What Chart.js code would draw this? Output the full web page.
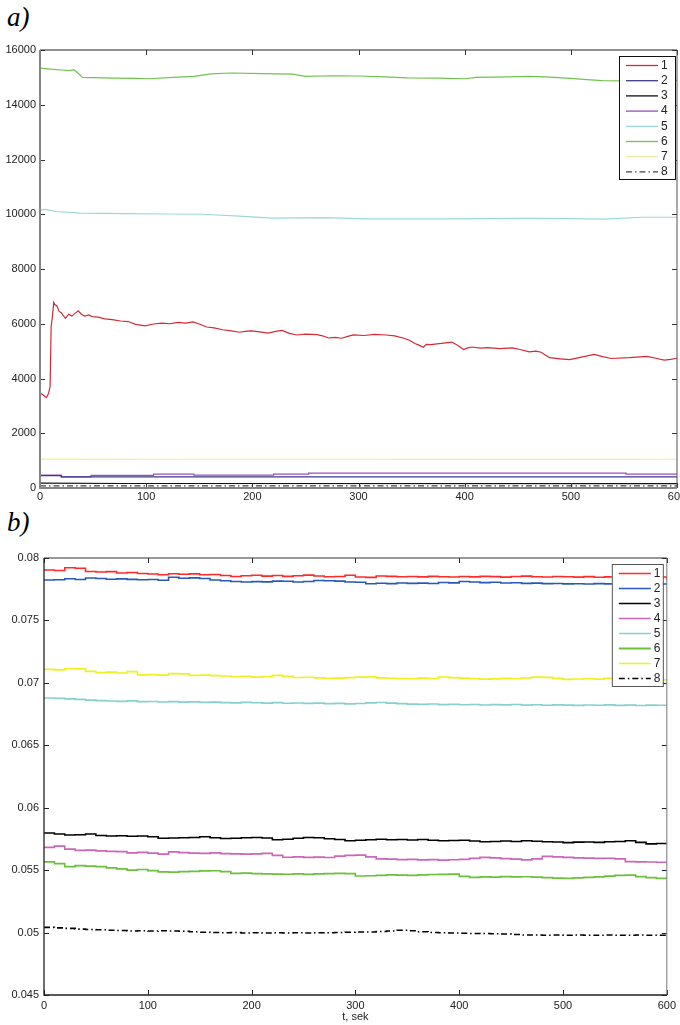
<!DOCTYPE html>
<html>
<head>
<meta charset="utf-8">
<script src="https://cdn.jsdelivr.net/npm/chart.js@4.4.0/dist/chart.umd.min.js"></script>
<style>
html, body { margin: 0; padding: 0; background: #fff; overflow: hidden; width: 680px; height: 1025px; }
.lbl { position: absolute; font-family: "Liberation Serif", "DejaVu Serif", serif; font-style: italic; font-size: 27px; color: #000; line-height: 30px; }
#wa { position: absolute; left: 0; top: 0; width: 700px; height: 510px; }
#wb { position: absolute; left: 0; top: 540px; width: 680px; height: 485px; }
</style>
</head>
<body>
<div class="lbl" style="left:7px;top:2px">a)</div>
<div class="lbl" style="left:7px;top:507px">b)</div>
<div id="wa"><canvas id="ca"></canvas></div>
<div id="wb"><canvas id="cb"></canvas></div>
<script>
// ---- chart a) ----
var xTicksA = [0, 100, 200, 300, 400, 500, 600];
var yTicksA = [0, 2000, 4000, 6000, 8000, 10000, 12000, 14000, 16000];

var a1T = [0,3,6,8,9.5,10.5,11.5,13,14,16,
  18,20,22,24,27,30,33,36,39,42,
  46,49,55,61,68,76,83,90,99,107,
  115,122,130,137,144,150,157,164,172,180,
  188,193,199,207,215,222,228,235,242,250,
  261,266,272,278,284,290,295,305,315,326,
  334,342,348,353,357,361,364,368,378,388,
  394,399,403,407,415,422,433,445,452,461,
  467,472,476,480,490,499,510,522,530,538,
  555,572,580,588,594,600];
var a1V = [3480,3400,3300,3450,3700,5900,6200,6780,6700,6650,
  6450,6400,6300,6200,6350,6280,6380,6470,6350,6280,
  6320,6260,6240,6180,6150,6100,6080,5980,5920,5990,
  6020,6000,6050,6020,6070,5990,5880,5850,5780,5740,
  5690,5720,5740,5700,5660,5720,5760,5650,5590,5620,
  5600,5560,5480,5500,5470,5540,5590,5570,5610,5590,
  5560,5480,5400,5280,5220,5140,5250,5240,5280,5330,
  5200,5060,5120,5150,5110,5130,5090,5120,5060,4970,
  5000,4960,4860,4760,4720,4690,4780,4880,4800,4730,
  4760,4810,4740,4670,4700,4740];
var a2T = [0, 20, 600];
var a2V = [450, 410, 410];
var a3T = [0, 80, 600];
var a3V = [180, 165, 160];
var a4T = [0, 20, 48, 107, 145, 220, 253, 552, 600];
var a4V = [470, 410, 460, 510, 470, 510, 545, 510, 510];
var a5T = [0,5,15,38,80,120,153,192,218,240,268,307,350,384,420,461,500,530,568,600];
var a5V = [10150,10180,10100,10040,10020,10010,10000,9920,9860,9870,9880,9830,9830,9830,9840,9850,9840,9820,9890,9890];
var a6T = [0,10,20,28,32,36,40,50,70,90,
  103,125,145,161,180,210,238,250,275,300,
  325,346,375,400,411,440,461,476,500,515,
  530,560,600];
var a6V = [15340,15300,15270,15250,15280,15150,15000,14990,14970,14960,
  14950,15000,15040,15130,15160,15140,15120,15040,15060,15050,
  15020,14980,14970,14950,15000,15020,15040,15020,14960,14920,
  14880,14870,14890];
var a7T = [0, 150, 300, 450, 600];
var a7V = [1055, 1050, 1050, 1048, 1050];
var a8T = [0, 600];
var a8V = [75, 75];

// ---- chart b) ----
var xTicksB = [0, 100, 200, 300, 400, 500, 600];
var yTicksB = [0.045, 0.05, 0.055, 0.06, 0.065, 0.07, 0.075, 0.08];
var tB = [0,10,20,30,40,50,60,70,80,90,
  100,110,120,130,140,150,160,170,180,190,
  200,210,220,230,240,250,260,270,280,290,
  300,310,320,330,340,350,360,370,380,390,
  400,410,420,430,440,450,460,470,480,490,
  500,510,520,530,540,550,560,570,580,590,600];
var b1 = [0.07904,0.07900,0.07922,0.07918,0.07892,0.07888,0.07891,0.07880,0.07884,0.07876,
  0.07872,0.07866,0.07874,0.07870,0.07873,0.07866,0.07868,0.07860,0.07852,0.07858,
  0.07862,0.07855,0.07860,0.07853,0.07858,0.07863,0.07856,0.07850,0.07852,0.07862,
  0.07848,0.07845,0.07856,0.07853,0.07850,0.07852,0.07849,0.07853,0.07850,0.07848,
  0.07852,0.07849,0.07853,0.07851,0.07847,0.07852,0.07855,0.07850,0.07848,0.07852,
  0.07850,0.07847,0.07851,0.07846,0.07849,0.07845,0.07848,0.07846,0.07844,0.07848,0.07830];
var b2 = [0.07824,0.07826,0.07834,0.07828,0.07840,0.07836,0.07830,0.07833,0.07829,0.07826,
  0.07828,0.07822,0.07846,0.07838,0.07841,0.07836,0.07824,0.07818,0.07812,0.07808,
  0.07811,0.07809,0.07815,0.07814,0.07808,0.07812,0.07820,0.07818,0.07815,0.07808,
  0.07806,0.07794,0.07798,0.07795,0.07800,0.07797,0.07799,0.07796,0.07804,0.07801,
  0.07812,0.07808,0.07803,0.07806,0.07800,0.07802,0.07797,0.07799,0.07795,0.07796,
  0.07793,0.07794,0.07792,0.07795,0.07793,0.07794,0.07792,0.07794,0.07793,0.07792,0.07795];
var b3 = [0.05798,0.05790,0.05781,0.05783,0.05789,0.05778,0.05774,0.05776,0.05772,0.05774,
  0.05768,0.05756,0.05758,0.05760,0.05762,0.05767,0.05760,0.05754,0.05756,0.05760,
  0.05762,0.05758,0.05743,0.05748,0.05755,0.05762,0.05760,0.05752,0.05745,0.05736,
  0.05740,0.05744,0.05748,0.05744,0.05746,0.05742,0.05745,0.05740,0.05736,0.05738,
  0.05740,0.05733,0.05728,0.05730,0.05734,0.05730,0.05736,0.05732,0.05728,0.05725,
  0.05720,0.05724,0.05726,0.05722,0.05728,0.05730,0.05735,0.05722,0.05710,0.05713,0.05714];
var b4 = [0.05682,0.05692,0.05668,0.05658,0.05660,0.05654,0.05650,0.05648,0.05638,0.05642,
  0.05636,0.05628,0.05646,0.05640,0.05636,0.05634,0.05638,0.05632,0.05630,0.05628,
  0.05630,0.05634,0.05618,0.05603,0.05606,0.05602,0.05604,0.05601,0.05612,0.05618,
  0.05620,0.05606,0.05590,0.05588,0.05584,0.05586,0.05582,0.05584,0.05580,0.05583,
  0.05586,0.05594,0.05602,0.05598,0.05592,0.05588,0.05582,0.05590,0.05610,0.05606,
  0.05602,0.05598,0.05596,0.05594,0.05595,0.05590,0.05568,0.05566,0.05565,0.05563,0.05564];
var b5 = [0.06879,0.06876,0.06872,0.06868,0.06862,0.06858,0.06855,0.06852,0.06856,0.06850,
  0.06851,0.06847,0.06850,0.06846,0.06848,0.06844,0.06846,0.06842,0.06840,0.06844,
  0.06841,0.06838,0.06842,0.06837,0.06839,0.06836,0.06838,0.06834,0.06836,0.06832,
  0.06835,0.06840,0.06843,0.06838,0.06834,0.06830,0.06828,0.06831,0.06826,0.06829,
  0.06825,0.06827,0.06823,0.06826,0.06824,0.06827,0.06822,0.06825,0.06821,0.06824,
  0.06822,0.06820,0.06823,0.06821,0.06824,0.06820,0.06822,0.06819,0.06822,0.06821,0.06823];
var b6 = [0.05566,0.05552,0.05528,0.05536,0.05532,0.05528,0.05518,0.05510,0.05500,0.05505,
  0.05496,0.05486,0.05484,0.05488,0.05490,0.05494,0.05495,0.05488,0.05474,0.05476,
  0.05472,0.05470,0.05468,0.05467,0.05470,0.05466,0.05470,0.05472,0.05474,0.05472,
  0.05453,0.05455,0.05458,0.05462,0.05460,0.05458,0.05462,0.05465,0.05466,0.05468,
  0.05450,0.05442,0.05446,0.05444,0.05448,0.05446,0.05447,0.05444,0.05440,0.05436,
  0.05434,0.05438,0.05442,0.05446,0.05452,0.05458,0.05460,0.05448,0.05440,0.05434,0.05433];
var b7 = [0.07108,0.07104,0.07113,0.07112,0.07092,0.07082,0.07086,0.07079,0.07090,0.07064,
  0.07066,0.07062,0.07074,0.07072,0.07060,0.07062,0.07058,0.07055,0.07049,0.07052,
  0.07046,0.07050,0.07060,0.07052,0.07043,0.07045,0.07040,0.07036,0.07038,0.07042,
  0.07046,0.07048,0.07040,0.07037,0.07034,0.07033,0.07038,0.07035,0.07047,0.07042,
  0.07038,0.07034,0.07030,0.07032,0.07036,0.07033,0.07040,0.07046,0.07044,0.07036,
  0.07028,0.07031,0.07034,0.07030,0.07037,0.07033,0.07028,0.07030,0.07025,0.07024,0.07026];
var b8 = [0.05042,0.05038,0.05034,0.05028,0.05024,0.05022,0.05018,0.05016,0.05013,0.05015,
  0.05012,0.05014,0.05012,0.05010,0.05006,0.05003,0.05000,0.04998,0.05000,0.04997,
  0.04999,0.04996,0.04998,0.04997,0.04999,0.04996,0.04998,0.04999,0.05000,0.05002,
  0.05005,0.05004,0.05008,0.05012,0.05018,0.05015,0.05006,0.05000,0.04998,0.04996,
  0.04994,0.04993,0.04992,0.04991,0.04988,0.04984,0.04980,0.04981,0.04979,0.04980,
  0.04978,0.04980,0.04979,0.04978,0.04980,0.04979,0.04978,0.04980,0.04979,0.04978,0.04979];

var seriesLabels = ['1', '2', '3', '4', '5', '6', '7', '8'];

function pts(t, v) {
  return t.map(function(x, i) { return { x: x, y: v[i] }; });
}

function plainLabel(v) {
  return String(parseFloat(Number(v).toFixed(4)));
}

var DASHDOT = [6, 3, 1.5, 3];

// inward MATLAB-style ticks plus box frame, and the boxed legend
var framePlugin = {
  id: 'frame',
  afterDatasetsDraw: function(chart, args, o) {
    var a = chart.chartArea, c = chart.ctx;
    var xs = chart.scales.x, ys = chart.scales.y;
    c.save();
    c.setLineDash([]);
    c.strokeStyle = o.tickColor;
    c.lineWidth = 1;
    c.beginPath();
    xs.ticks.forEach(function(t) {
      var px = Math.round(xs.getPixelForValue(t.value)) + 0.5;
      c.moveTo(px, a.bottom); c.lineTo(px, a.bottom - 5);
      c.moveTo(px, a.top); c.lineTo(px, a.top + 5);
    });
    ys.ticks.forEach(function(t) {
      var py = Math.round(ys.getPixelForValue(t.value)) + 0.5;
      c.moveTo(a.left, py); c.lineTo(a.left + 5, py);
      c.moveTo(a.right, py); c.lineTo(a.right - 5, py);
    });
    c.stroke();
    c.lineWidth = o.topWidth; c.strokeStyle = o.topColor;
    c.beginPath(); c.moveTo(a.left, a.top); c.lineTo(a.right, a.top); c.stroke();
    c.strokeStyle = o.rightColor;
    c.beginPath(); c.moveTo(a.right, a.top); c.lineTo(a.right, a.bottom); c.stroke();
    c.lineWidth = o.axisWidth; c.strokeStyle = o.axisColor;
    c.beginPath(); c.moveTo(a.left, a.top); c.lineTo(a.left, a.bottom); c.lineTo(a.right, a.bottom); c.stroke();
    c.restore();
  },
  afterDraw: function(chart, args, o) {
    var a = chart.chartArea, c = chart.ctx, L = o.legend;
    var x0 = a.right - L.right - L.w, y0 = a.top + L.top;
    c.save();
    c.fillStyle = '#fff';
    c.fillRect(x0, y0, L.w, L.h);
    c.strokeStyle = L.border; c.lineWidth = 1;
    c.strokeRect(x0 + 0.5, y0 + 0.5, L.w, L.h);
    c.font = '12px "Liberation Sans", Arial, sans-serif';
    c.textBaseline = 'middle';
    c.fillStyle = '#222';
    chart.data.datasets.forEach(function(ds, i) {
      var y = y0 + 9.5 + i * L.step;
      c.strokeStyle = ds.borderColor;
      c.lineWidth = ds.label === '6' && L.thick6 ? 2.2 : 1.3;
      c.setLineDash(ds.borderDash || []);
      c.beginPath(); c.moveTo(x0 + 7, y); c.lineTo(x0 + 39, y); c.stroke();
      c.fillText(ds.label, x0 + 42, y);
    });
    c.restore();
  }
};

var tickFont = { family: '"Liberation Sans", Arial, sans-serif', size: 11 };

var colorsA = ['#d42a35', '#3a3a8c', '#111111', '#9a4fb5', '#9ad8d8', '#72c24f', '#f2eaa0', '#444444'];
var dataA = [pts(a1T, a1V), pts(a2T, a2V), pts(a3T, a3V), pts(a4T, a4V),
  pts(a5T, a5V), pts(a6T, a6V), pts(a7T, a7V), pts(a8T, a8V)];

new Chart(document.getElementById('ca'), {
  type: 'line',
  data: {
    datasets: dataA.map(function(d, i) {
      return {
        label: seriesLabels[i],
        data: d,
        borderColor: colorsA[i],
        borderWidth: 1.2,
        borderDash: i === 7 ? DASHDOT : [],
        pointRadius: 0,
        tension: 0,
        stepped: (i === 1 || i === 3) ? true : false
      };
    })
  },
  options: {
    responsive: true,
    maintainAspectRatio: false,
    animation: false,
    layout: { padding: { left: 0, top: 50, right: 23, bottom: 4 } },
    plugins: {
      legend: { display: false },
      tooltip: { enabled: false },
      frame: {
        tickColor: '#333', topColor: '#222', rightColor: '#555', topWidth: 1,
        axisColor: '#858585', axisWidth: 2,
        legend: { w: 56, h: 123, right: 2, top: 6, step: 15.2, border: '#111' }
      }
    },
    scales: {
      x: {
        type: 'linear', min: 0, max: 600,
        afterBuildTicks: function(s) { s.ticks = xTicksA.map(function(v) { return { value: v }; }); },
        grid: { display: false, drawTicks: false },
        border: { display: false },
        ticks: { font: tickFont, color: '#222', padding: 2, maxRotation: 0, callback: plainLabel },
        afterFit: function(s) { s.height = 18; }
      },
      y: {
        min: 0, max: 16000,
        afterBuildTicks: function(s) { s.ticks = yTicksA.map(function(v) { return { value: v }; }); },
        grid: { display: false, drawTicks: false },
        border: { display: false },
        ticks: { font: tickFont, color: '#222', padding: 4, callback: plainLabel },
        afterFit: function(s) { s.width = 40; }
      }
    }
  },
  plugins: [framePlugin]
});

var colorsB = ['#ff2a2a', '#2858b8', '#000000', '#cc66b8', '#88d0d0', '#6cc03c', '#f0f020', '#000000'];
var valsB = [b1, b2, b3, b4, b5, b6, b7, b8];

new Chart(document.getElementById('cb'), {
  type: 'line',
  data: {
    datasets: valsB.map(function(v, i) {
      return {
        label: seriesLabels[i],
        data: pts(tB, v),
        borderColor: colorsB[i],
        borderWidth: 1.6,
        borderDash: i === 7 ? DASHDOT : [],
        pointRadius: 0,
        stepped: true
      };
    })
  },
  options: {
    responsive: true,
    maintainAspectRatio: false,
    animation: false,
    layout: { padding: { left: 0, top: 18, right: 8, bottom: 0 } },
    plugins: {
      legend: { display: false },
      tooltip: { enabled: false },
      frame: {
        tickColor: '#222', topColor: '#333', rightColor: '#777', topWidth: 1,
        axisColor: '#222', axisWidth: 1.3,
        legend: { w: 51, h: 122, right: 4, top: 6, step: 15, border: '#555', thick6: true }
      }
    },
    scales: {
      x: {
        type: 'linear', min: 0, max: 600,
        afterBuildTicks: function(s) { s.ticks = xTicksB.map(function(v) { return { value: v }; }); },
        grid: { display: false, drawTicks: false },
        border: { display: false },
        ticks: { font: tickFont, color: '#222', padding: 4, maxRotation: 0, callback: plainLabel },
        title: { display: true, text: 't, sek', font: tickFont, color: '#222', padding: { top: 0, bottom: 1 } },
        afterFit: function(s) { s.height = 30; }
      },
      y: {
        min: 0.045, max: 0.08,
        afterBuildTicks: function(s) { s.ticks = yTicksB.map(function(v) { return { value: v }; }); },
        grid: { display: false, drawTicks: false },
        border: { display: false },
        ticks: { font: tickFont, color: '#222', padding: 5, callback: plainLabel },
        afterFit: function(s) { s.width = 44; }
      }
    }
  },
  plugins: [framePlugin]
});
</script>
</body>
</html>
